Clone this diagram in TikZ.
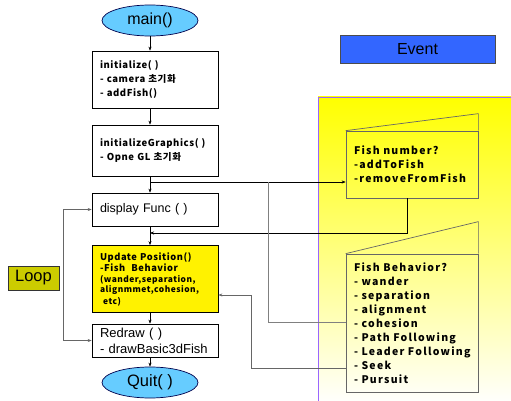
\documentclass[tikz,border=0pt]{standalone}
\usepackage{fontspec}
\setmainfont{Liberation Sans}
\newfontfamily\krfont[LetterSpace=6]{Noto Sans CJK KR}
\newfontfamily\krwide[LetterSpace=12]{Noto Sans CJK KR}
\usetikzlibrary{shapes.geometric,arrows.meta}
\definecolor{skyblue}{HTML}{66CCFF}
\definecolor{eventblue}{HTML}{3366FF}
\definecolor{loopolive}{HTML}{CCCC00}
\definecolor{areaborder}{HTML}{9966FF}
\definecolor{fishgray}{HTML}{666666}

\begin{document}
\begin{tikzpicture}[x=1pt,y=-1pt,>={Stealth[length=4pt,width=3pt]},
square/.style={
% The box:
rectangle,
draw=black,
line width=0.7pt,
fill=white,
inner xsep=8pt,
inner ysep=2pt,
text width=110pt,
align=left
},
oval/.style={
ellipse,
draw=black!70!blue,
line width=0.7pt,
fill=skyblue,
minimum width=96pt,
minimum height=31pt,
inner sep=0pt,
font=\fontsize{16}{18}\selectfont
},
fish/.style={
rectangle,
draw=fishgray,
line width=0.7pt,
inner xsep=8pt,
text width=116pt,
align=left,
font=\krwide\bfseries\fontsize{10.5}{14}\selectfont
},
grey line/.style={draw=gray,line width=0.7pt},
kr/.style={font=\krfont\bfseries\fontsize{9.5}{14}\selectfont}
]
\useasboundingbox (0,0) rectangle (511,401);

% event area
\shade[top color=yellow,bottom color=white] (318,97) rectangle (515,405);
\draw[areaborder,line width=0.8pt] (318,405) -- (318,97) -- (515,97);
\node (event) [rectangle,draw=black!70,fill=eventblue,minimum width=155pt,minimum height=28pt,
  font=\fontsize{16}{18}\selectfont] at (417.5,49) {Event};

% main flow
\node (main) [oval] at (150,20.5) {main()};
\node (init) [square,kr,minimum height=57pt] at (155,79.5) {initialize( )\\- camera 초기화\\- addFish()};
\node (initG) [square,kr,minimum height=51pt] at (155,150.5) {initializeGraphics( )\\- Opne GL 초기화};
\node (display) [square,minimum height=33pt,font=\fontsize{12.5}{15}\selectfont] at (155,209.5) {display Func ( )};
\node (update) [square,fill=yellow,minimum height=67pt,font=\krfont\bfseries\fontsize{9.3}{11.5}\selectfont] at (155,279)
  {Update Position()\\-Fish~ Behavior\\{\fontsize{8.4}{10.5}\selectfont(wander,separation,\\alignmmet,cohesion,\\~etc)}};
\node (redraw) [square,minimum height=33pt,font=\fontsize{13}{16}\selectfont] at (155,340.5) {Redraw ( )\\- drawBasic3dFish};
\node (quit) [oval,font=\fontsize{16.5}{18}\selectfont] at (150,382.5) {Quit( )};
\node (loop) [rectangle,draw=black!80,fill=loopolive,minimum width=51pt,minimum height=24pt,
  font=\fontsize{16.5}{18}\selectfont] at (33.5,278) {Loop};

% event boxes
\node (fishn) [fish,minimum height=67pt] at (412,164.5) {Fish number?\\-addToFish\\-removeFromFish};
\draw[fishgray,line width=0.7pt] (fishn.north west) -- ([yshift=17pt]fishn.north east) -- (fishn.north east);
\node (fishb) [fish,minimum height=138pt] at (412,323)
  {Fish Behavior?\\- wander\\- separation\\- alignment\\- cohesion\\- Path Following\\- Leader Following\\- Seek\\- Pursuit};
\draw[fishgray,line width=0.7pt] (fishb.north west) -- ([yshift=32pt]fishb.north east) -- (fishb.north east);

% connectors
\coordinate (j1) at (150,182);
\coordinate (j2) at (150,233);
\coordinate (g1) at (268,182);
\coordinate (g2) at (268,322);
\coordinate (g3) at (251,368);
\coordinate (g4) at (251,295);
\draw[->] (main.south) -- (main.south |- init.north);
\draw[->] (init.south -| main) -- (initG.north -| main);
\draw[->] (initG.south -| main) -- (display.north -| main);
\draw[->] (display.south -| main) -- (update.north -| main);
\draw[->] (update.south -| main) -- (redraw.north -| main);
\draw[->] (redraw.south -| main) -- (quit.north);
\draw[->] (j1) -- (j1 -| fishn.west);
\draw[->] ([xshift=-5pt]fishn.south) |- (j2);
\draw[grey line] (g1) -- (g2) -- (g2 -| fishb.west);
\draw[grey line,->,draw=black!60] (g3 -| fishb.west) -- (g3) -- (g4) -- (g4 -| update.east);
\draw[<->,draw=black!60] (redraw.west) -- ++(-28,0) |- (display.west);
\end{tikzpicture}
\end{document}
